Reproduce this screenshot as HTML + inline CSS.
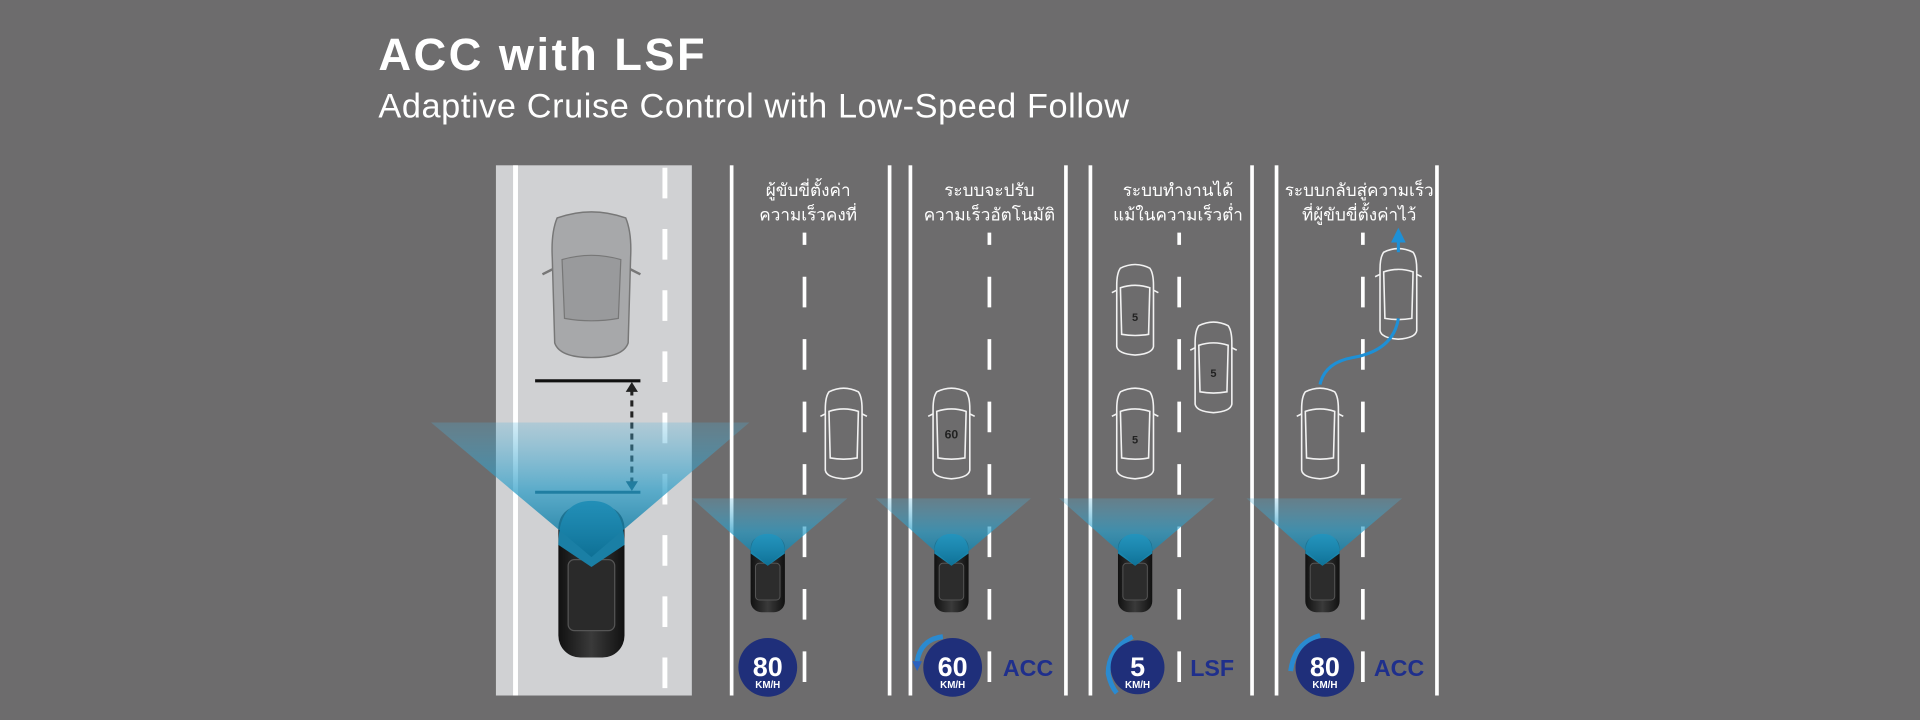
<!DOCTYPE html>
<html><head><meta charset="utf-8"><style>
html,body{margin:0;padding:0;background:#6d6c6d;}
svg{display:block;}
text{font-family:"Liberation Sans",sans-serif;}
</style></head><body>
<svg width="1920" height="720" viewBox="0 0 1920 720" xmlns="http://www.w3.org/2000/svg">
<defs>
<linearGradient id="cone" x1="0" y1="0" x2="0" y2="1">
<stop offset="0" stop-color="#4fb3dc" stop-opacity="0.25"/>
<stop offset="0.5" stop-color="#2a9cc6" stop-opacity="0.7"/>
<stop offset="1" stop-color="#0d6f94" stop-opacity="0.95"/>
</linearGradient>
<linearGradient id="blk" x1="0" y1="0" x2="1" y2="0">
<stop offset="0" stop-color="#111"/><stop offset="0.5" stop-color="#3a3a3a"/><stop offset="1" stop-color="#111"/>
</linearGradient>
<g id="ocar" fill="none" stroke="#f2f2f2" stroke-width="1.3">
<path d="M-12,-34 Q0,-40 12,-34 Q15,-30 15,-20 L15,30 Q14,36 0,37 Q-14,36 -15,30 L-15,-20 Q-15,-30 -12,-34Z"/>
<path d="M-12,-18 Q0,-22 12,-18 L11,20 Q0,22 -11,20Z"/>
<path d="M-15,-16 L-19,-14 M15,-16 L19,-14"/>
</g>
<g id="bcar">
<rect x="-14" y="-32" width="28" height="62" rx="9" fill="url(#blk)"/>
<rect x="-10" y="-10" width="20" height="30" rx="3" fill="#2c2c2c" stroke="#555" stroke-width="0.8"/>
<path d="M-14,-18 Q-14,-34 0,-34 Q14,-34 14,-18 L0,-8 Z" fill="#1a86ad"/>
</g>
</defs>
<g transform="scale(1.2245)">
<text x="309" y="57" font-size="37" font-weight="bold" fill="#fff" letter-spacing="2">ACC with LSF</text>
<text x="309" y="96" font-size="28" fill="#fff" letter-spacing="0.5">Adaptive Cruise Control with Low-Speed Follow</text>

<rect x="405" y="135" width="160" height="433" fill="#d0d1d3"/>
<rect x="419" y="135" width="4" height="433" fill="#fff"/>
<line x1="543" y1="137" x2="543" y2="568" stroke="#fff" stroke-width="4" stroke-dasharray="25,25"/>
<g transform="translate(483,230)">
<path d="M-28,-52 Q0,-62 28,-52 Q33,-40 32,-20 L30,50 Q26,62 0,62 Q-26,62 -30,50 L-32,-20 Q-33,-40 -28,-52Z" fill="#a7a8aa" stroke="#777" stroke-width="1.2"/>
<path d="M-24,-18 Q0,-25 24,-18 L22,30 Q0,34 -22,30Z" fill="#999a9c" stroke="#777"/>
<path d="M-32,-10 L-40,-6 M32,-10 L40,-6" stroke="#777" stroke-width="2"/>
</g>
<line x1="437" y1="311" x2="523" y2="311" stroke="#111" stroke-width="2.5"/>
<line x1="437" y1="402" x2="523" y2="402" stroke="#0b3b4f" stroke-width="2.5"/>
<line x1="516" y1="318" x2="516" y2="394" stroke="#222" stroke-width="2.5" stroke-dasharray="5,4"/>
<path d="M511,320 L516,312 L521,320Z" fill="#222"/>
<path d="M511,393 L516,401 L521,393Z" fill="#0b3b4f"/>
<g transform="translate(483,475)">
<rect x="-27" y="-62" width="54" height="124" rx="18" fill="url(#blk)"/>
<rect x="-19" y="-18" width="38" height="58" rx="5" fill="#2a2a2a" stroke="#555"/>
<path d="M-27,-30 Q-27,-66 0,-66 Q27,-66 27,-30 L0,-12Z" fill="#1a7fa5"/>
</g>
<path d="M352,345 L612,345 L483,455Z" fill="url(#cone)"/>

<g fill="#fff">
<rect x="596" y="135" width="3" height="433"/><rect x="725" y="135" width="3" height="433"/>
<rect x="742" y="135" width="3" height="433"/><rect x="869" y="135" width="3" height="433"/>
<rect x="889" y="135" width="3" height="433"/><rect x="1021" y="135" width="3" height="433"/>
<rect x="1041" y="135" width="3" height="433"/><rect x="1172" y="135" width="3" height="433"/>
</g>
<g stroke="#fff" stroke-width="3">
<line x1="657" y1="190" x2="657" y2="568" stroke-dasharray="10,26,25,26,25,26,25,26,25,26,25,26,25,26,25,26,25,26"/>
<line x1="808" y1="190" x2="808" y2="568" stroke-dasharray="10,26,25,26,25,26,25,26,25,26,25,26,25,26,25,26,25,26"/>
<line x1="963" y1="190" x2="963" y2="568" stroke-dasharray="10,26,25,26,25,26,25,26,25,26,25,26,25,26,25,26,25,26"/>
<line x1="1113" y1="190" x2="1113" y2="568" stroke-dasharray="10,26,25,26,25,26,25,26,25,26,25,26,25,26,25,26,25,26"/>
</g>

<g font-size="14" fill="#fff" text-anchor="middle" font-family="'Liberation Sans','Noto Sans CJK SC',sans-serif">
<text x="660" y="160">ผู้ขับขี่ตั้งค่า</text><text x="660" y="180">ความเร็วคงที่</text>
<text x="808" y="160">ระบบจะปรับ</text><text x="808" y="180">ความเร็วอัตโนมัติ</text>
<text x="962" y="160">ระบบทำงานได้</text><text x="962" y="180">แม้ในความเร็วต่ำ</text>
<text x="1110" y="160">ระบบกลับสู่ความเร็ว</text><text x="1110" y="180">ที่ผู้ขับขี่ตั้งค่าไว้</text>
</g>

<use href="#ocar" transform="translate(689,354)"/>
<use href="#ocar" transform="translate(777,354)"/>
<text x="777" y="358" font-size="10" text-anchor="middle" fill="#222" font-weight="bold">60</text>
<use href="#ocar" transform="translate(927,253)"/>
<text x="927" y="262" font-size="9" text-anchor="middle" fill="#222" font-weight="bold">5</text>
<use href="#ocar" transform="translate(927,354)"/>
<text x="927" y="362" font-size="9" text-anchor="middle" fill="#222" font-weight="bold">5</text>
<use href="#ocar" transform="translate(991,300)"/>
<text x="991" y="308" font-size="9" text-anchor="middle" fill="#222" font-weight="bold">5</text>
<use href="#ocar" transform="translate(1078,354)"/>
<use href="#ocar" transform="translate(1142,240)"/>
<path d="M1078,314 Q1082,296 1105,292 Q1138,286 1142,260" fill="none" stroke="#1e90d6" stroke-width="2.5"/>
<path d="M1142,186 L1136,198 L1148,198Z" fill="#1e90d6"/>
<line x1="1142" y1="196" x2="1142" y2="206" stroke="#1e90d6" stroke-width="2.5"/>

<use href="#bcar" transform="translate(627,470)"/>
<path d="M565,407 L692,407 L627,462Z" fill="url(#cone)"/>
<use href="#bcar" transform="translate(777,470)"/>
<path d="M715,407 L842,407 L777,462Z" fill="url(#cone)"/>
<use href="#bcar" transform="translate(927,470)"/>
<path d="M865,407 L992,407 L927,462Z" fill="url(#cone)"/>
<use href="#bcar" transform="translate(1080,470)"/>
<path d="M1018,407 L1145,407 L1080,462Z" fill="url(#cone)"/>

<g font-weight="bold" text-anchor="middle" fill="#fff">
<circle cx="627" cy="545" r="24" fill="#1f2f7a"/>
<text x="627" y="552" font-size="22">80</text><text x="627" y="562" font-size="8">KM/H</text>
<path d="M770,520 Q752,522 749,540" fill="none" stroke="#2a8ad0" stroke-width="4"/>
<path d="M745,540 L749,548 L753,540Z" fill="#2a62c0"/>
<circle cx="778" cy="545" r="24" fill="#1f2f7a"/>
<text x="778" y="552" font-size="22">60</text><text x="778" y="562" font-size="8">KM/H</text>
<path d="M925,520 Q905,530 905,550 Q907,560 912,566" fill="none" stroke="#2a8ad0" stroke-width="4"/>
<circle cx="929" cy="545" r="22" fill="#1f2f7a"/>
<text x="929" y="552" font-size="22">5</text><text x="929" y="562" font-size="8">KM/H</text>
<path d="M1078,519 Q1057,525 1054,548" fill="none" stroke="#2a8ad0" stroke-width="4"/>
<circle cx="1082" cy="545" r="24" fill="#1f2f7a"/>
<text x="1082" y="552" font-size="22">80</text><text x="1082" y="562" font-size="8">KM/H</text>
</g>
<g font-weight="bold" font-size="19" fill="#1f2f8c">
<text x="819" y="552">ACC</text>
<text x="972" y="552">LSF</text>
<text x="1122" y="552">ACC</text>
</g>
</g>
</svg>
</body></html>
